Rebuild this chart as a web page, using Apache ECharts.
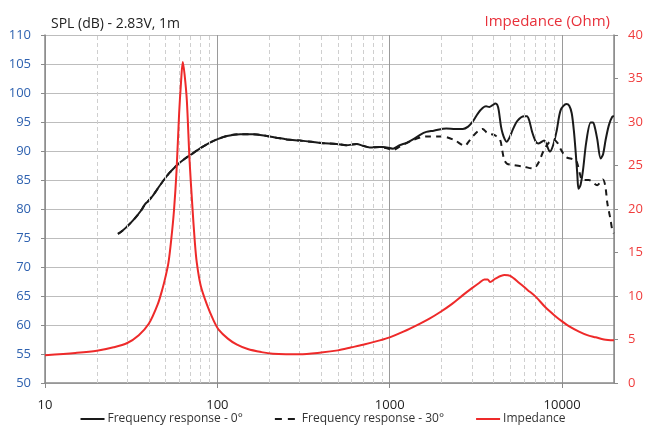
<!DOCTYPE html>
<html>
<head>
<meta charset="utf-8">
<script src="https://cdn.jsdelivr.net/npm/echarts@6/dist/echarts.min.js"></script>
<style>
html,body{margin:0;padding:0;background:#fff;}
#chart{width:646px;height:436px;}
</style>
</head>
<body>
<div id="chart"></div>
<script>
// ---- data ----
const freq0 = [26.5,28,30,33,36,38,39.5,42,45,48.9,53,58.5,65,72,79.8,90,99.5,113.7,135.8,160,193.6,220,253,300,350,400,492,560,642,700,766,875,914,1045,1143,1250,1365,1500,1631,1800,2130,2400,2656,2850,3027,3250,3458,3620,3783,3950,4100,4200,4285,4422,4520,4650,4765,4950,5160,5500,6030,6250,6440,6700,7040,7300,7870,8100,8490,8870,9300,9820,10590,11000,11370,11700,12000,12250,12450,12800,13220,13800,14650,15100,15500,16000,16740,17300,17880,18700,19540,20000];
const spl0  = [75.7,76.2,77.0,78.3,79.7,80.8,81.3,82.2,83.5,85.0,86.3,87.6,88.7,89.6,90.5,91.4,92.0,92.6,92.9,92.9,92.6,92.3,92.0,91.8,91.6,91.4,91.2,91.0,91.2,90.9,90.6,90.7,90.7,90.4,91.0,91.4,92.0,92.8,93.3,93.5,93.9,93.8,93.8,94.2,95.05,96.5,97.4,97.7,97.6,97.9,98.2,98.0,97.1,94.2,93.0,92.0,91.6,92.3,93.6,95.2,96.0,96.0,95.3,93.3,91.6,91.3,91.8,91.2,89.9,91.0,93.5,97.1,98.1,97.8,96.5,93.5,89.6,86.0,83.5,84.2,86.7,91.5,94.9,94.9,94.0,92.0,88.7,89.5,91.9,94.5,95.9,96.0];

const freq30 = [26.5,28,30,33,36,38,39.5,42,45,48.9,53,58.5,65,72,79.8,90,99.5,113.7,135.8,160,193.6,220,253,300,350,400,492,560,642,700,766,875,950,1045,1150,1365,1631,2000,2130,2400,2716,2900,3027,3250,3458,3650,3783,4000,4140,4370,4500,4625,4800,5160,6000,6730,7000,7360,7800,8410,8960,9400,9820,10510,11480,12000,12270,12700,13120,14310,15980,17240,17800,18300,19000,19540,19900];
const spl30  = [75.7,76.2,77.0,78.3,79.7,80.8,81.3,82.2,83.5,85.0,86.3,87.6,88.7,89.6,90.5,91.4,92.0,92.6,92.9,92.9,92.6,92.3,92.0,91.8,91.6,91.4,91.2,91.0,91.2,90.9,90.6,90.7,90.5,90.2,90.8,91.9,92.5,92.5,92.4,91.8,90.9,91.8,92.5,93.4,93.8,93.2,93.0,92.8,92.6,91.9,90.0,88.4,87.8,87.6,87.3,87.0,87.2,88.2,90.0,91.5,91.9,91.4,90.3,89.0,88.6,88.4,87.8,86.0,85.0,85.0,84.1,85.1,84.0,81.0,78.5,76.4,75.8];

const freqZ = [10,15,20,25,30,35,40,45,48,50,52,54,56,58,60,61.5,63,64.5,66.5,69,71.5,74,76,80,87,95,102,115,130,150,180,210,250,300,400,500,600,700,875,1000,1200,1490,1700,1945,2300,2656,3000,3300,3540,3700,3820,4100,4625,5000,5640,6300,7040,8000,9000,10040,11000,12530,14000,15660,17500,20000];
const impZ  = [3.2,3.45,3.7,4.1,4.6,5.5,6.8,9.0,10.8,12.2,13.8,16.5,19.8,24.5,31.0,34.5,36.9,35.5,32.5,25.5,20.5,16.2,13.8,11.2,9.0,7.2,6.1,5.1,4.4,3.9,3.55,3.35,3.3,3.3,3.5,3.75,4.1,4.4,4.9,5.25,5.9,6.8,7.4,8.1,9.1,10.1,10.9,11.5,11.9,11.9,11.6,12.0,12.4,12.3,11.5,10.7,9.9,8.7,7.8,7.05,6.5,5.9,5.5,5.25,5.0,4.9];

const xTickLabels = [10,100,1000,10000];
const minorGridFreqs = [20,30,40,50,60,70,80,90,200,300,400,500,600,700,800,900,2000,3000,4000,5000,6000,7000,8000,9000];

const seriesNames = ['Frequency response - 0°','Frequency response - 30°','Impedance'];
const leftTitle = 'SPL (dB) - 2.83V, 1m';
const rightTitle = 'Impedance (Ohm)';

const zip = (a,b) => a.map((v,i)=>[v,b[i]]);

const FONT = '"Open Sans", "Noto Sans", sans-serif';
const ICON_SOLID = 'path://M0,0 L24,0 L24,2 L0,2 Z';
const ICON_DASH = 'path://M0,0 L7,0 L7,2 L0,2 Z M13,0 L20,0 L20,2 L13,2 Z M24,0 L24,2 L24,0 Z';
const chart = echarts.init(document.getElementById('chart'), null, {renderer:'canvas'});

chart.setOption({
  animation:false,
  backgroundColor:'#fff',
  textStyle:{fontFamily:FONT},
  title:[
    {text:leftTitle,left:46,top:12,textStyle:{fontFamily:FONT,fontSize:14,fontWeight:'normal',color:'#222'}},
    {text:rightTitle,right:31,top:9,textStyle:{fontFamily:FONT,fontSize:15,fontWeight:'normal',color:'#e8303a'}}
  ],
  grid:{left:45,right:32,top:35,bottom:53,containLabel:false},
  legend:{
    data:[
      {name:seriesNames[0],icon:ICON_SOLID},
      {name:seriesNames[1],icon:ICON_DASH},
      {name:seriesNames[2],icon:ICON_SOLID}
    ],
    bottom:6,
    left:'center',
    itemWidth:24,
    itemHeight:2,
    itemGap:32,
    textStyle:{fontFamily:FONT,fontSize:12,color:'#333',padding:[0,0,0,-2]}
  },
  xAxis:{
    type:'log',
    logBase:10,
    min:10,max:20000,
    axisLine:{show:true,lineStyle:{color:'#8a8a8a',width:1.5}},
    axisTick:{show:true,length:5,lineStyle:{color:'#8a8a8a'}},
    axisLabel:{
      fontFamily:FONT,fontSize:13,color:'#222',margin:16,
      showMaxLabel:false,
      formatter:function(v){ return xTickLabels.indexOf(Math.round(v))>=0 ? String(Math.round(v)) : ''; }
    },
    splitLine:{show:true,lineStyle:{color:'#9a9a9a',width:1}}
  },
  yAxis:[
    {
      type:'value',min:50,max:110,interval:5,position:'left',
      axisLine:{show:true,lineStyle:{color:'#8a8a8a',width:1.5}},
      axisTick:{show:true,length:4,lineStyle:{color:'#8a8a8a'}},
      axisLabel:{fontFamily:FONT,fontSize:13,color:'#2f62b0',margin:14},
      splitLine:{show:true,lineStyle:{color:'#bdbdbd',width:1}}
    },
    {
      type:'value',min:0,max:40,interval:5,position:'right',
      axisLine:{show:true,lineStyle:{color:'#8a8a8a',width:1.5}},
      axisTick:{show:true,length:4,lineStyle:{color:'#8a8a8a'}},
      axisLabel:{fontFamily:FONT,fontSize:13,color:'#f03c3c',margin:14},
      splitLine:{show:false}
    }
  ],
  series:[
    {
      name:seriesNames[1],type:'line',yAxisIndex:0,
      data:zip(freq30,spl30),
      symbol:'none',smooth:0.3,
      lineStyle:{color:'#1a1a1a',width:2,type:[6,5]},
      itemStyle:{color:'#1a1a1a'},
      z:3,
      markLine:{
        silent:true,symbol:'none',label:{show:false},
        lineStyle:{color:'#cfcfcf',width:1,type:[4,3]},
        data:minorGridFreqs.map(f=>({xAxis:f}))
      }
    },
    {
      name:seriesNames[0],type:'line',yAxisIndex:0,
      data:zip(freq0,spl0),
      symbol:'none',smooth:0.3,
      lineStyle:{color:'#1a1a1a',width:2},
      itemStyle:{color:'#1a1a1a'},
      z:4
    },
    {
      name:seriesNames[2],type:'line',yAxisIndex:1,
      data:zip(freqZ,impZ),
      symbol:'none',smooth:0.3,
      lineStyle:{color:'#ee2a2a',width:2},
      itemStyle:{color:'#ee2a2a'},
      z:5
    }
  ]
});
</script>
</body>
</html>
